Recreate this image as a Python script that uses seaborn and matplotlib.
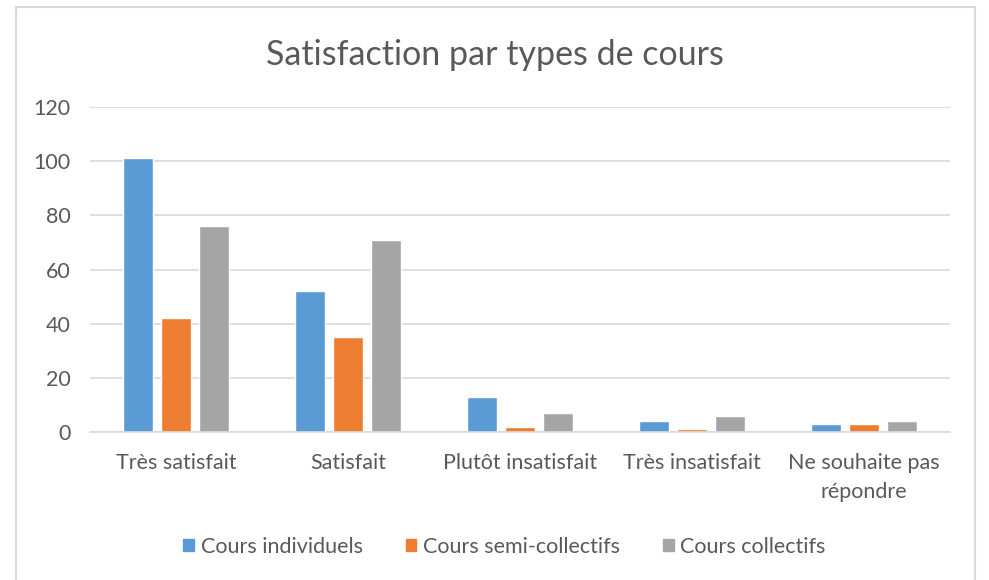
import pandas as pd
import matplotlib.pyplot as plt
import matplotlib.patches as mpatches
import seaborn as sns

# Satisfaction counts per course type
categories = ['Très satisfait', 'Satisfait', 'Plutôt insatisfait',
              'Très insatisfait', 'Ne souhaite pas\nrépondre']
series = ['Cours individuels', 'Cours semi-collectifs', 'Cours collectifs']
individuels = [101, 52, 13, 4, 3]
semi_collectifs = [42, 35, 2, 1, 3]
collectifs = [76, 71, 7, 6, 4]
colors = ['#5B9BD5', '#ED7D31', '#A5A5A5']

df = pd.DataFrame({
    'categorie': categories * 3,
    'type': [series[0]] * 5 + [series[1]] * 5 + [series[2]] * 5,
    'valeur': individuels + semi_collectifs + collectifs,
})

sns.set_style('white')
plt.rcParams['font.family'] = ['Lato', 'DejaVu Sans']
text_color = '#595959'

fig = plt.figure(figsize=(9.89, 5.80), dpi=100)
ax = fig.add_axes([90 / 989, 1 - 432 / 580, 860 / 989, 325 / 580])

sns.barplot(data=df, x='categorie', y='valeur', hue='type', order=categories,
            hue_order=series, palette=colors, width=0.66, gap=0.2,
            saturation=1, ax=ax, legend=False)

ax.set_ylim(0, 120)
ax.set_yticks(range(0, 121, 20))
ax.yaxis.grid(True, color='#D9D9D9', linewidth=1.2)
ax.set_axisbelow(True)
ax.set_xlabel('')
ax.set_ylabel('')
for s in ['left', 'right', 'top']:
    ax.spines[s].set_visible(False)
ax.spines['bottom'].set_color('#D9D9D9')
ax.spines['bottom'].set_linewidth(1.2)
ax.tick_params(axis='both', length=0, labelsize=15.5, colors=text_color)
ax.tick_params(axis='y', pad=14)
ax.tick_params(axis='x', pad=15)
for lbl in ax.get_xticklabels():
    lbl.set_linespacing(1.55)

fig.text(0.5, 1 - 55 / 580, 'Satisfaction par types de cours', ha='center',
         va='center', fontsize=24.5, color=text_color)

handles = [mpatches.Patch(color=c, label=l) for c, l in zip(colors, series)]
fig.legend(handles=handles, loc='center', bbox_to_anchor=(0.51, 1 - 547 / 580),
           ncol=3, frameon=False, fontsize=15.5, labelcolor=text_color,
           handlelength=0.5, handleheight=0.5, handletextpad=0.3,
           columnspacing=2.0)

# chart area border
fig.patches.append(mpatches.Rectangle((16 / 989, -0.01), 959 / 989, 1 - 7 / 580 + 0.01,
                                      transform=fig.transFigure, fill=False,
                                      edgecolor='#D9D9D9', linewidth=1.5))

fig.savefig('out.png', dpi=100)
